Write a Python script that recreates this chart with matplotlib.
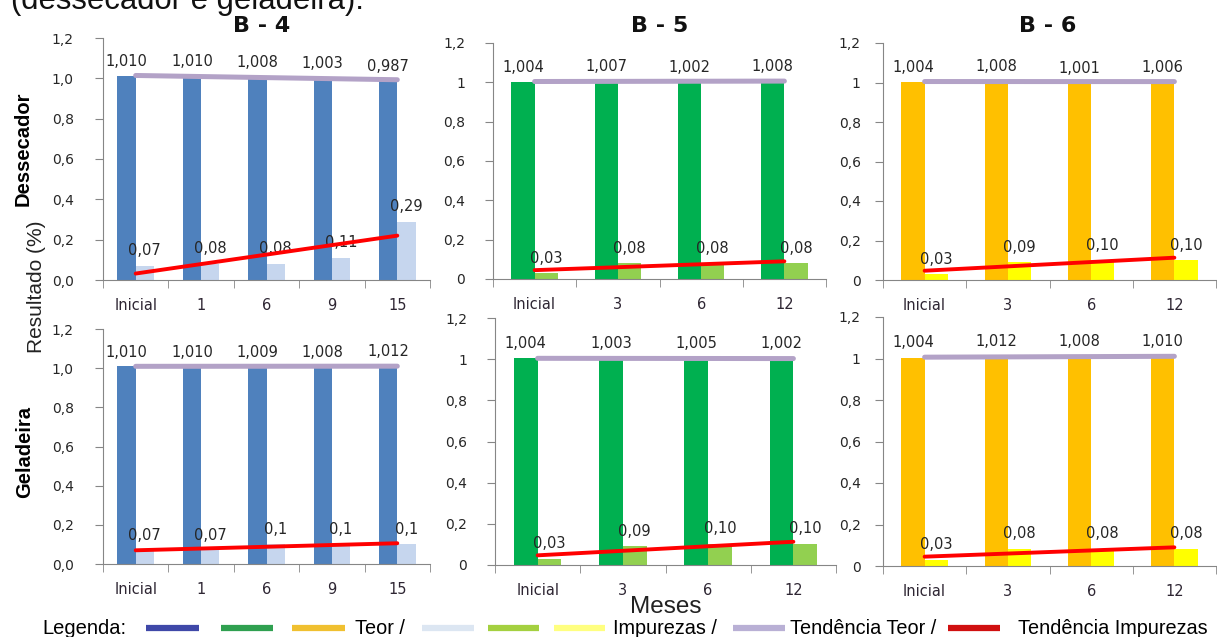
import numpy as np
import matplotlib.pyplot as plt
from matplotlib.lines import Line2D
from matplotlib.ticker import FuncFormatter

plt.rcParams['font.family'] = ['DejaVu Sans']

W, H = 1217, 637

# meses de armazenamento
meses_b4 = ['Inicial', '1', '6', '9', '15']
meses_b56 = ['Inicial', '3', '6', '12']

# teor e impurezas (%), como impressos sobre as barras
teor_b4_dess = ['1,010', '1,010', '1,008', '1,003', '0,987']
imp_b4_dess = ['0,07', '0,08', '0,08', '0,11', '0,29']
teor_b4_gel = ['1,010', '1,010', '1,009', '1,008', '1,012']
imp_b4_gel = ['0,07', '0,07', '0,1', '0,1', '0,1']

teor_b5_dess = ['1,004', '1,007', '1,002', '1,008']
imp_b5_dess = ['0,03', '0,08', '0,08', '0,08']
teor_b5_gel = ['1,004', '1,003', '1,005', '1,002']
imp_b5_gel = ['0,03', '0,09', '0,10', '0,10']

teor_b6_dess = ['1,004', '1,008', '1,001', '1,006']
imp_b6_dess = ['0,03', '0,09', '0,10', '0,10']
teor_b6_gel = ['1,004', '1,012', '1,008', '1,010']
imp_b6_gel = ['0,03', '0,08', '0,08', '0,08']

cores_b4 = ('#4f81bd', '#c6d6ee')
cores_b5 = ('#00b050', '#92d050')
cores_b6 = ('#ffc000', '#ffff00')

COR_EIXO = '#868686'
COR_TXT = '#262626'


def num(lst):
    return np.array([float(s.replace(',', '.')) for s in lst])


def px_rect(x0, x1, y12, y0):
    # caixa do eixo a partir de pixels (esq, dir, topo 1,2, base 0)
    return [x0 / W, 1 - y0 / H, (x1 - x0) / W, (y0 - y12) / H]


def painel(rect, meses, teor, imp, cores, um_decimal, ypad):
    ax = fig.add_axes(rect)
    x = np.arange(len(meses))
    t = num(teor)
    i = num(imp)
    w = 0.28
    ax.bar(x - w / 2, t, w, color=cores[0], zorder=2)
    ax.bar(x + w / 2, i, w, color=cores[1], zorder=2)

    for xi, v, s in zip(x, t, teor):
        ax.text(xi - w / 2, v + 0.072, s, ha='center', va='center',
                fontsize=10.5, color=COR_TXT, zorder=3)
    for xi, v, s in zip(x, i, imp):
        ax.text(xi + w / 2, v + 0.075, s, ha='center', va='center',
                fontsize=10.5, color=COR_TXT, zorder=3)

    # linhas de tendência (ajuste linear)
    for y, c, lw in ((t, '#b3a2c7', 3.6), (i, '#ff0000', 2.8)):
        a, b = np.polyfit(x, y, 1)
        xe = x[[0, -1]]
        ax.plot(xe, a * xe + b, color=c, lw=lw, solid_capstyle='round', zorder=4)

    ax.set_xlim(-0.5, len(meses) - 0.5)
    ax.set_ylim(0, 1.2)
    ax.set_yticks(np.arange(0, 1.21, 0.2))
    if um_decimal:
        fmt = lambda v, p: f'{v:.1f}'.replace('.', ',')
    else:
        fmt = lambda v, p: f'{round(v, 1):g}'.replace('.', ',')
    ax.yaxis.set_major_formatter(FuncFormatter(fmt))
    ax.tick_params(axis='y', length=6, color=COR_EIXO, labelsize=10,
                   labelcolor=COR_TXT, pad=ypad)

    ax.set_xticks(x)
    ax.set_xticklabels(meses)
    ax.set_xticks(np.arange(len(meses) + 1) - 0.5, minor=True)
    ax.tick_params(axis='x', which='major', length=0, pad=13, labelsize=10.5,
                   labelcolor='#2e2633')
    ax.tick_params(axis='x', which='minor', length=6, color=COR_EIXO)

    for s in ('top', 'right'):
        ax.spines[s].set_visible(False)
    for s in ('left', 'bottom'):
        ax.spines[s].set_color(COR_EIXO)
    return ax


fig = plt.figure(figsize=(W / 100, H / 100), dpi=100)

painel(px_rect(103, 430, 38, 280), meses_b4, teor_b4_dess, imp_b4_dess, cores_b4, True, 15)
painel(px_rect(103, 430, 329, 564), meses_b4, teor_b4_gel, imp_b4_gel, cores_b4, True, 15)
painel(px_rect(493, 826, 43, 279), meses_b56, teor_b5_dess, imp_b5_dess, cores_b5, False, 14)
painel(px_rect(495, 836, 318, 565), meses_b56, teor_b5_gel, imp_b5_gel, cores_b5, False, 14)
painel(px_rect(883, 1216, 43, 280), meses_b56, teor_b6_dess, imp_b6_dess, cores_b6, False, 10)
painel(px_rect(883, 1216, 317, 566), meses_b56, teor_b6_gel, imp_b6_gel, cores_b6, False, 10)

# títulos das amostras
for nome, xc in (('B - 4', 262), ('B - 5', 660), ('B - 6', 1048)):
    fig.text(xc / W, 1 - 26 / H, nome, ha='center', va='center',
             fontsize=16, fontweight='bold', color='#111111')

# texto do documento, cortado no topo
fig.text(11 / W, 1 - 9 / H, '(dessecador e geladeira).', ha='left', va='baseline',
         fontsize=22.3, family=['Liberation Sans', 'DejaVu Sans'], color='#111111')

fig.text(23 / W, 1 - 149 / H, 'Dessecador', rotation=90, ha='center', va='center',
         fontsize=14.5, fontweight='bold', family=['Liberation Sans', 'DejaVu Sans'])
fig.text(25 / W, 1 - 452 / H, 'Geladeira', rotation=90, ha='center', va='center',
         fontsize=14.5, fontweight='bold', family=['Liberation Sans', 'DejaVu Sans'])
fig.text(36 / W, 1 - 287 / H, 'Resultado (%)', rotation=90, ha='center', va='center',
         fontsize=15, family=['Liberation Sans', 'DejaVu Sans'], color='#222222')
fig.text(666 / W, 1 - 607 / H, 'Meses', ha='center', va='center',
         fontsize=17.5, family=['Liberation Sans', 'DejaVu Sans'], color='#222222')

# legenda montada à mão
ly = 1 - 628 / H
leg_fam = ['Liberation Sans', 'DejaVu Sans']
fig.text(42 / W, ly, 'Legenda:', ha='left', va='center', fontsize=14.5, family=leg_fam)
tracos = [(146, 199, '#3f48a8'), (221, 273, '#2fa050'), (292, 345, '#f0c030'),
          (422, 474, '#dce6f2'), (488, 539, '#a4d040'), (554, 605, '#ffff80'),
          (733, 785, '#b9b0d5'), (948, 1000, '#d01010')]
for x0, x1, c in tracos:
    fig.add_artist(Line2D([x0 / W, x1 / W], [ly, ly], transform=fig.transFigure,
                          color=c, lw=4.5, solid_capstyle='butt'))
for xt, s in ((355, 'Teor /'), (613, 'Impurezas /'), (790, 'Tendência Teor /'),
              (1018, 'Tendência Impurezas')):
    fig.text(xt / W, ly, s, ha='left', va='center', fontsize=14.3, family=leg_fam)

fig.savefig('out.png', dpi=100)
